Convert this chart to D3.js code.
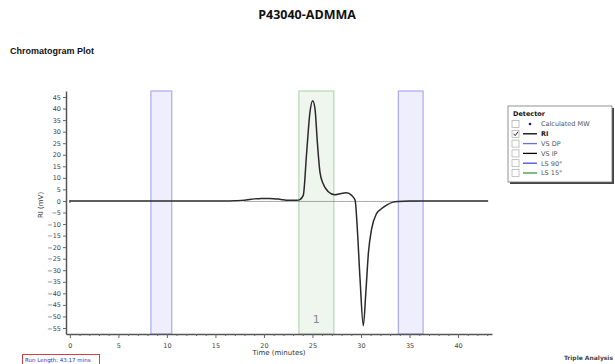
<!DOCTYPE html>
<html><head><meta charset="utf-8">
<script src="https://cdn.jsdelivr.net/npm/d3@7"></script>
<style>body{margin:0;background:#fff}svg{display:block}</style>
</head><body>
<svg id="c" width="615" height="364"></svg>
<script>
// ---- data ----
const timeValues = [0,2,4,6,8,10,12,14,16,17,18,18.5,19,19.5,20,20.5,21,21.5,22,22.5,23,23.4,23.7,24.05,24.4,24.74,25.02,25.26,25.5,25.77,26.1,26.6,27.3,27.8,28.5,29.04,29.4,29.6,29.9,30.24,30.5,30.77,31.1,31.6,32.1,32.6,33.3,33.85,35,37,40,43.1];
const riValues   = [0,0,0,0,0,0,0,0,0,0.1,0.3,0.6,0.9,1.0,1.1,1.1,1.0,0.8,0.5,0.3,0.3,0.3,0.6,2.4,21,38.4,43.4,39.9,25.5,12.5,7.4,4.1,2.7,3.1,3.5,2.4,0.2,-10.6,-33.7,-54,-39.5,-22.2,-12,-5.5,-3.4,-1.9,-0.5,-0.2,0,0,0,0];
const regionStart = [8.35, 23.6, 33.85];
const regionEnd   = [10.5, 27.2, 36.4];
const regionKind  = ["marker", "peak", "marker"];
const regionLabel = ["", "1", ""];
const baselineRange = [18, 36];
const xTicks = [0,5,10,15,20,25,30,35,40];
const yTicks = [45,40,35,30,25,20,15,10,5,0,-5,-10,-15,-20,-25,-30,-35,-40,-45,-50,-55];
const legendNames = ["Calculated MW","RI","VS DP","VS IP","LS 90°","LS 15°"];
const legendColors = ["#1a1a8c","#000000","#6a6af0","#000000","#4848e0","#3a9a3a"];
const legendChecked = [false,true,false,false,false,false];

// ---- layout ----
const svg = d3.select("#c");
const x = d3.scaleLinear().domain([-0.4, 43.5]).range([66, 492]);
const y = d3.scaleLinear().domain([-57.6, 47.6]).range([334, 91]);
const font = "'DejaVu Sans', Verdana, sans-serif";

svg.append("text").attr("x",307).attr("y",19).attr("text-anchor","middle")
  .attr("font-family","'Open Sans', sans-serif").attr("font-weight","bold").attr("font-size",12.5)
  .attr("fill","#111").text("P43040-ADMMA");
svg.append("text").attr("x",10).attr("y",54)
  .attr("font-family","'Liberation Sans', Arial, sans-serif").attr("font-weight","bold").attr("font-size",9)
  .attr("fill","#111").text("Chromatogram Plot");

// regions
const reg = svg.append("g");
regionStart.forEach((s,i)=>{
  const peak = regionKind[i]==="peak";
  reg.append("rect").attr("x",x(s)).attr("y",y(47.6)).attr("width",x(regionEnd[i])-x(s))
    .attr("height",y(-57.6)-y(47.6))
    .attr("fill", peak ? "#eef6ee" : "#eeeefc")
    .attr("stroke", peak ? "#b4d8b4" : "#aaaaf0").attr("stroke-width",1.2);
  if (regionLabel[i]) reg.append("text").attr("x",(x(s)+x(regionEnd[i]))/2).attr("y",323)
    .attr("text-anchor","middle").attr("font-family",font).attr("font-size",11).attr("fill","#888").text(regionLabel[i]);
});

// baseline dotted
svg.append("line").attr("x1",x(baselineRange[0])).attr("x2",x(baselineRange[1]))
  .attr("y1",y(0)+0.5).attr("y2",y(0)+0.5).attr("stroke","#555").attr("stroke-width",1).attr("stroke-dasharray","1,1");

// curve
const pts = timeValues.map((t,i)=>[t,riValues[i]]);
svg.append("path").datum(pts)
  .attr("d", d3.line().x(d=>x(d[0])).y(d=>y(d[1])).curve(d3.curveMonotoneX))
  .attr("fill","none").attr("stroke","#2a2a2a").attr("stroke-width",1.5);
svg.append("line").attr("x1",x(0)).attr("x2",x(0)).attr("y1",y(0)-1).attr("y2",y(0)+2).attr("stroke","#333");

// axes
const xAxis = svg.append("g").attr("transform","translate(0,334)")
  .call(d3.axisBottom(x).tickValues(xTicks).tickSize(4).tickSizeOuter(0));
const xMinor = svg.append("g").attr("transform","translate(0,334)")
  .call(d3.axisBottom(x).tickValues(d3.range(0,44,1).filter(v=>v%5)).tickSize(2).tickFormat("").tickSizeOuter(0));
xMinor.select(".domain").remove();
const yAxis = svg.append("g").attr("transform","translate(66,0)")
  .call(d3.axisLeft(y).tickValues(yTicks).tickSize(3).tickSizeOuter(0));
[xAxis,yAxis,xMinor].forEach(g=>{
  g.selectAll("text").attr("font-family",font).attr("font-size",6.5).attr("fill","#444");
  g.selectAll("line").attr("stroke","#666");
  g.select(".domain").attr("stroke","#555").attr("stroke-width",1.5);
});
xAxis.selectAll("text").attr("dy","1.1em");
yAxis.selectAll("text").attr("x",-5);

svg.append("text").attr("x",279).attr("y",355).attr("text-anchor","middle")
  .attr("font-family",font).attr("font-size",7).attr("fill","#333").text("Time (minutes)");
svg.append("text").attr("transform","translate(43,205) rotate(-90)").attr("text-anchor","middle")
  .attr("font-family",font).attr("font-size",7).attr("fill","#333").text("RI (mV)");

// legend
const lg = svg.append("g");
lg.append("rect").attr("x",510).attr("y",108).attr("width",104).attr("height",76).attr("fill","#444");
lg.append("rect").attr("x",508).attr("y",106).attr("width",104).attr("height",76).attr("fill","#fff").attr("stroke","#777").attr("stroke-width",0.8);
lg.append("text").attr("x",513).attr("y",115.5).attr("font-family",font).attr("font-weight","bold")
  .attr("font-size",6.5).attr("fill","#111").text("Detector");
legendNames.forEach((n,i)=>{
  const cy = 124 + i*9.8;
  lg.append("rect").attr("x",512).attr("y",cy-3.5).attr("width",7).attr("height",7)
    .attr("fill","#fff").attr("stroke","#aaa").attr("stroke-width",0.7);
  if (legendChecked[i]) lg.append("path").attr("d",`M${513.5},${cy} L${515.2},${cy+1.8} L${518},${cy-2}`)
    .attr("fill","none").attr("stroke","#222").attr("stroke-width",1);
  if (i===0) lg.append("circle").attr("cx",530).attr("cy",cy).attr("r",1.3).attr("fill",legendColors[i]);
  else lg.append("line").attr("x1",523).attr("x2",537).attr("y1",cy).attr("y2",cy)
    .attr("stroke",legendColors[i]).attr("stroke-width",1.3);
  lg.append("text").attr("x",541).attr("y",cy+2.3).attr("font-family",font).attr("font-size",6.5)
    .attr("font-weight", legendChecked[i] ? "bold" : "normal")
    .attr("fill", legendChecked[i] ? "#111" : "#555").text(n);
});

// footer
svg.append("rect").attr("x",22.5).attr("y",354.5).attr("width",77).attr("height",10)
  .attr("fill","#fff").attr("stroke","#d04040").attr("stroke-width",1);
svg.append("text").attr("x",25).attr("y",361.5).attr("font-family",font).attr("font-size",5.5)
  .attr("fill","#3030c0").text("Run Length: 43.17 mins");
svg.append("text").attr("x",613).attr("y",360).attr("text-anchor","end").attr("font-family",font)
  .attr("font-weight","bold").attr("font-size",6).attr("fill","#444").text("Triple Analysis");
</script>
</body></html>
